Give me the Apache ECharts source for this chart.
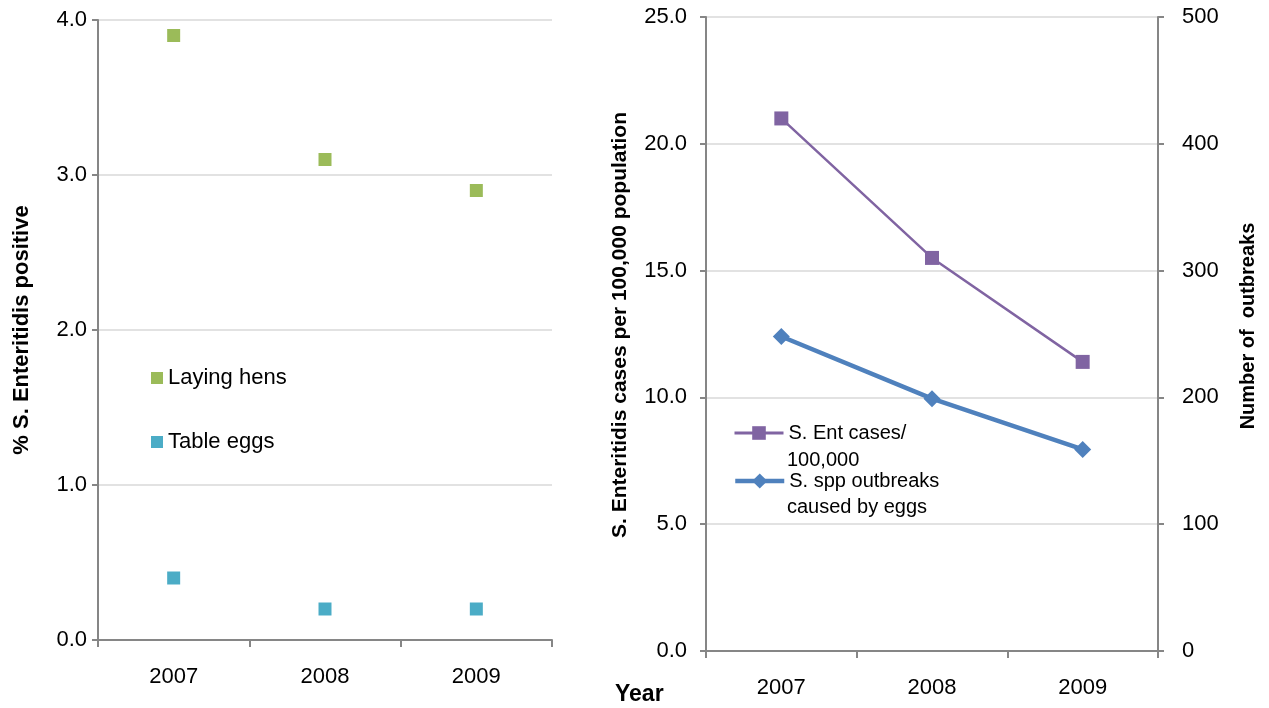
<!DOCTYPE html>
<html>
<head>
<meta charset="utf-8">
<script src="https://cdn.jsdelivr.net/npm/echarts@6/dist/echarts.min.js"></script>
<style>html,body{margin:0;padding:0;background:#fff;}#chart{width:1269px;height:708px;}</style>
</head>
<body>
<div id="chart"></div>
<script>
const years = ['2007', '2008', '2009'];
const layingHens = [3.9, 3.1, 2.9];
const tableEggs = [0.4, 0.2, 0.2];
const entCases = [21.0, 15.5, 11.4];
const outbreaks = [248, 199, 159];

const FONT = '"Liberation Sans", Arial, sans-serif';
const AXIS_GRAY = '#868686';
const GRID_GRAY = '#d9d9d9';

const chart = echarts.init(document.getElementById('chart'), null, {renderer: 'canvas'});

function catAxis(gi) {
  return {
    type: 'category', gridIndex: gi, data: years, boundaryGap: true,
    axisLine: {show: true, lineStyle: {color: AXIS_GRAY, width: 2}},
    axisTick: {show: true, length: 7, lineStyle: {color: AXIS_GRAY, width: 2}},
    axisLabel: {margin: 26, fontSize: 22, color: '#000', fontFamily: FONT},
    splitLine: {show: false}
  };
}
function valAxis(gi, min, max, interval, digits, margin, pos) {
  return {
    type: 'value', gridIndex: gi, min: min, max: max, interval: interval, position: pos,
    axisLine: {show: true, lineStyle: {color: AXIS_GRAY, width: 2}},
    axisTick: {show: true, length: 6, lineStyle: {color: AXIS_GRAY, width: 2}},
    axisLabel: {margin: margin, fontSize: 22, color: '#000', fontFamily: FONT,
      formatter: v => v.toFixed(digits)},
    splitLine: {show: true, lineStyle: {color: GRID_GRAY, width: 1.5}},
    nameLocation: 'middle', nameRotate: 90,
    nameTextStyle: {fontSize: 20, fontWeight: 'bold', color: '#000', fontFamily: FONT}
  };
}

const yLeft = valAxis(0, 0, 4, 1, 1, 11, 'left');
yLeft.name = '% S. Enteritidis positive';
yLeft.nameGap = 65;
yLeft.nameTextStyle.fontSize = 22;

const yMid = valAxis(1, 0, 25, 5, 1, 19, 'left');
yMid.name = 'S. Enteritidis cases per 100,000 population';
yMid.nameGap = 75;
yMid.nameTextStyle.fontSize = 21;
yMid.nameTextStyle.padding = [0, 0, 0, 18];

const yRight = valAxis(1, 0, 500, 100, 0, 24, 'right');
yRight.name = 'Number of  outbreaks';
yRight.nameGap = 80;
yRight.splitLine = {show: false};
yRight.nameTextStyle.padding = [0, 0, 0, 16];

const option = {
  animation: false,
  backgroundColor: '#fff',
  grid: [
    {left: 98, right: 717, top: 20, bottom: 68},
    {left: 706, right: 111, top: 17, bottom: 57}
  ],
  xAxis: [catAxis(0), catAxis(1)],
  yAxis: [yLeft, yMid, yRight],
  legend: [
    {
      data: ['Laying hens', 'Table eggs'], orient: 'vertical', left: 151, top: 365, padding: 0,
      itemWidth: 12, itemHeight: 12, itemGap: 38, icon: 'rect',
      itemStyle: {opacity: 1},
      textStyle: {fontSize: 22, lineHeight: 26, color: '#000', fontFamily: FONT}
    },
    {
      data: ['S. Ent cases/ 100,000'], left: 733, top: 420, padding: 0,
      itemWidth: 49, itemHeight: 17,
      lineStyle: {width: 3},
      formatter: () => 'S. Ent cases/',
      textStyle: {fontSize: 20, lineHeight: 26, color: '#000', fontFamily: FONT}
    },
    {
      data: ['S. spp outbreaks caused by eggs'], left: 733, top: 468, padding: 0,
      itemWidth: 49, itemHeight: 19,
      lineStyle: {width: 4.5},
      formatter: () => 'S. spp outbreaks',
      textStyle: {fontSize: 20, lineHeight: 26, color: '#000', fontFamily: FONT}
    }
  ],
  graphic: [
    {type: 'text', x: 787, y: 460, style: {text: '100,000', fontSize: 20, fontFamily: FONT, fill: '#000', verticalAlign: 'middle'}},
    {type: 'text', x: 787, y: 507, style: {text: 'caused by eggs', fontSize: 20, fontFamily: FONT, fill: '#000', verticalAlign: 'middle'}},
    {type: 'text', x: 615, y: 695, style: {text: 'Year', fontSize: 23, fontWeight: 'bold', fontFamily: FONT, fill: '#000', verticalAlign: 'middle'}}
  ],
  series: [
    {name: 'Laying hens', type: 'scatter', xAxisIndex: 0, yAxisIndex: 0, data: layingHens,
      symbol: 'rect', symbolSize: 13, itemStyle: {color: '#9BBB59', opacity: 1}},
    {name: 'Table eggs', type: 'scatter', xAxisIndex: 0, yAxisIndex: 0, data: tableEggs,
      symbol: 'rect', symbolSize: 13, itemStyle: {color: '#4BACC6', opacity: 1}},
    {name: 'S. Ent cases/ 100,000', type: 'line', xAxisIndex: 1, yAxisIndex: 1, data: entCases,
      symbol: 'rect', symbolSize: 14, lineStyle: {color: '#8064A2', width: 2.5},
      itemStyle: {color: '#8064A2'}},
    {name: 'S. spp outbreaks caused by eggs', type: 'line', xAxisIndex: 1, yAxisIndex: 2, data: outbreaks,
      symbol: 'diamond', symbolSize: 17, lineStyle: {color: '#4F81BD', width: 4.5},
      itemStyle: {color: '#4F81BD'}}
  ]
};
chart.setOption(option);
</script>
</body>
</html>
